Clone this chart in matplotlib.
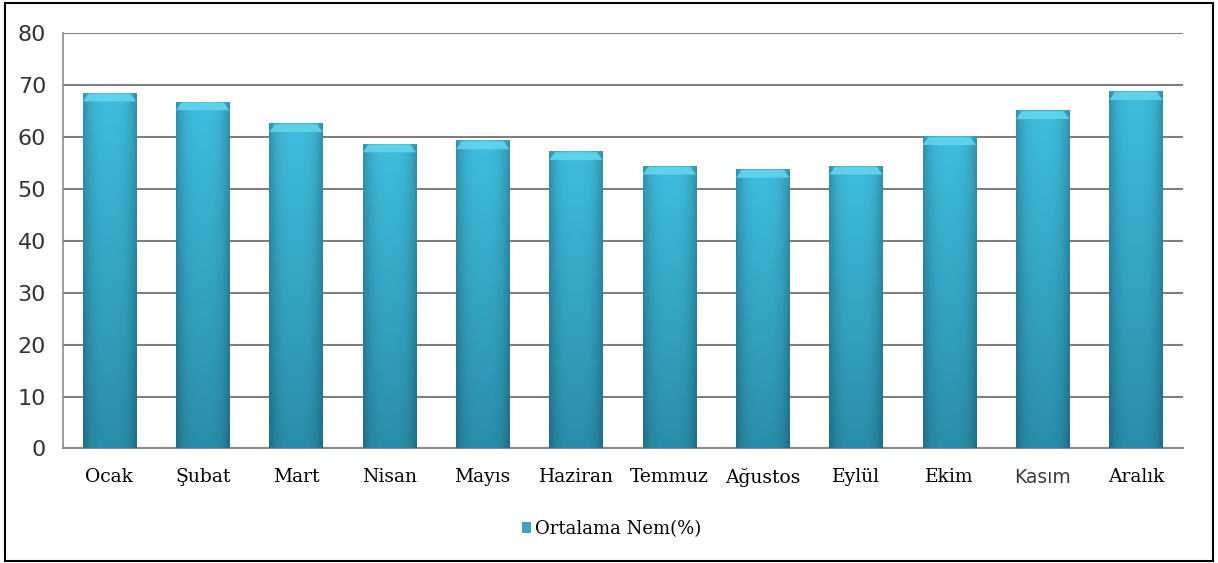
import numpy as np
import matplotlib.pyplot as plt
from matplotlib.patches import Polygon, Rectangle, Patch

# === DATA ===
months = ['Ocak', 'Şubat', 'Mart', 'Nisan', 'Mayıs', 'Haziran', 'Temmuz',
          'Ağustos', 'Eylül', 'Ekim', 'Kasım', 'Aralık']
nem = [68.4, 66.7, 62.5, 58.6, 59.2, 57.1, 54.3, 53.7, 54.3, 60.0, 65.0, 68.7]
yticks = [0, 10, 20, 30, 40, 50, 60, 70, 80]
series_name = 'Ortalama Nem(%)'

BAR_W = 0.57
top_col = np.array([0x3f, 0xbd, 0xde]) / 255
bot_col = np.array([0x2a, 0x8e, 0xab]) / 255
cap_col = '#66d6ee'

fig = plt.figure(figsize=(12.18, 5.63), dpi=100)
ax = fig.add_axes([0.0515, 0.2034, 0.9195, 0.7371])

# gradient image used for every bar (darker sides, lighter top)
ny, nx = 100, 40
v = np.linspace(1, 0, ny)[:, None, None]          # 1 at top
hx = np.linspace(-1, 1, nx)
side = (1 - 0.22 * np.abs(hx) ** 3)[None, :, None]
grad = (bot_col + (top_col - bot_col) * v) * side

for i, val in enumerate(nem):
    x0, x1 = i - BAR_W / 2, i + BAR_W / 2
    ax.imshow(grad, extent=[x0, x1, 0, val], aspect='auto', zorder=3,
              interpolation='bilinear')
    # bevel cap on top
    cap_h = 1.5
    inset = 0.06
    ax.add_patch(Polygon([(x0, val - cap_h), (x0 + inset, val), (x1 - inset, val),
                          (x1, val - cap_h)], closed=True, facecolor=cap_col,
                         edgecolor='none', zorder=4, alpha=0.85))

ax.set_xlim(-0.5, len(months) - 0.5)
ax.set_ylim(0, 80)
ax.set_yticks(yticks)
ax.set_xticks(range(len(months)))
ax.set_xticklabels(months, fontfamily='DejaVu Serif', fontsize=13.5,
                   color='black')
# Kasım is drawn in a different (sans) font in the original
for lbl in ax.get_xticklabels():
    if lbl.get_text() == 'Kasım':
        lbl.set_fontfamily('DejaVu Sans')
        lbl.set_color('#3a3a3a')
        lbl.set_fontsize(13.5)
ax.tick_params(axis='x', length=0, pad=14)
ax.tick_params(axis='y', length=0, pad=12, labelsize=16, labelcolor='#333333')
for lbl in ax.get_yticklabels():
    lbl.set_fontfamily('DejaVu Sans')

ax.grid(axis='y', color='#7f7f7f', linewidth=1.5, zorder=0)
ax.set_axisbelow(True)
for s in ['top', 'right']:
    ax.spines[s].set_visible(False)
ax.spines['left'].set_color('#8c8c8c')
ax.spines['bottom'].set_color('#8c8c8c')
ax.spines['left'].set_linewidth(1.2)
ax.spines['bottom'].set_linewidth(1.5)

# legend
handle = Patch(facecolor='#3aa3bd', edgecolor='none')
fig.legend([handle], [series_name], loc='center', bbox_to_anchor=(0.502, 0.06),
           frameon=False, handlelength=0.55, handleheight=0.55, handletextpad=0.2,
           prop={'family': 'DejaVu Serif', 'size': 13})

# outer border
fig.patches.append(Rectangle((5 / 1218, 2 / 563), 1208 / 1218, 558 / 563,
                             transform=fig.transFigure, fill=False,
                             edgecolor='black', linewidth=1.5))

fig.savefig('out.png', dpi=100)
